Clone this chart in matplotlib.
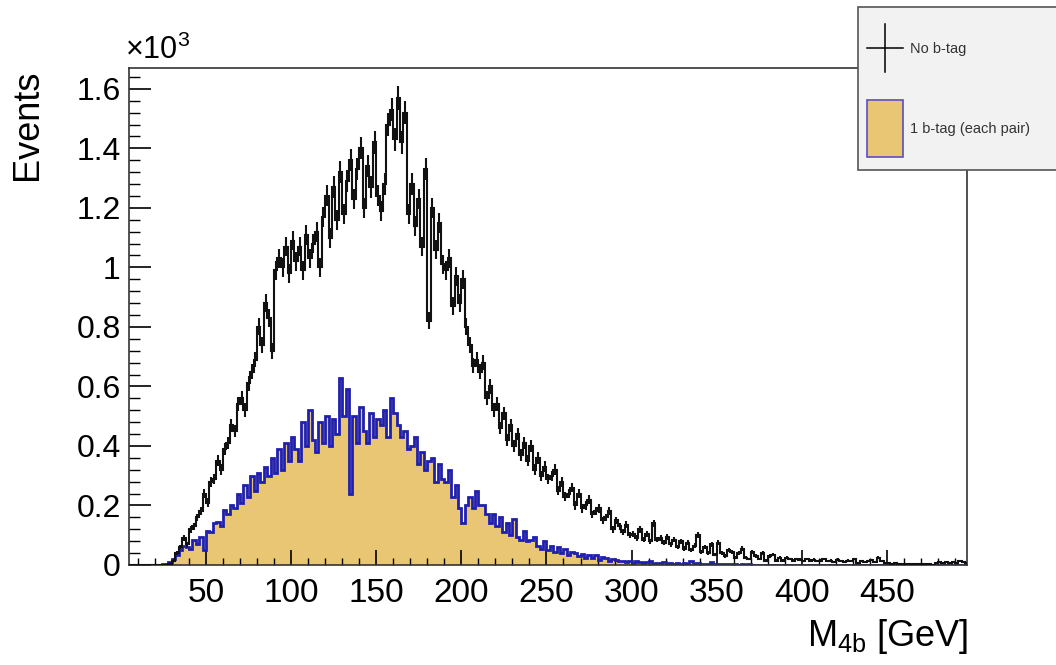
import numpy as np
import matplotlib
matplotlib.use("Agg")
import matplotlib.pyplot as plt
from matplotlib.ticker import MultipleLocator, FuncFormatter
from matplotlib.patches import Rectangle
from matplotlib.lines import Line2D

plt.rcParams['font.family'] = ['Liberation Sans', 'DejaVu Sans']
plt.rcParams['mathtext.default'] = 'regular'

# 2 GeV bins, 0..500 GeV
bin_edges = np.arange(0, 502, 2)

# "No b-tag" counts, starting at bin centre 29 GeV
nob_start = 29
nob_counts = [
    5, 15, 40, 60, 90, 70, 120, 130, 160, 180,
    240, 210, 280, 290, 350, 320, 390, 410, 470, 450,
    540, 560, 520, 610, 650, 690, 800, 740, 880, 830,
    720, 990, 1030, 1000, 1070, 980, 1090, 1020, 1070, 990,
    1110, 1030, 1080, 1120, 1000, 1170, 1240, 1100, 1270, 1160,
    1320, 1180, 1290, 1360, 1230, 1330, 1400, 1200, 1340, 1270,
    1420, 1240, 1190, 1280, 1480, 1530, 1430, 1570, 1420, 1520,
    1180, 1280, 1140, 1230, 1070, 1330, 820, 1200, 1060, 1150,
    1010, 990, 1030, 870, 970, 880, 960, 800, 740, 670,
    690, 650, 680, 560, 600, 520, 540, 460, 510, 420,
    470, 400, 440, 370, 410, 350, 400, 320, 360, 300,
    330, 290, 300, 320, 250, 280, 230, 240, 260, 200,
    240, 190, 200, 220, 170, 180, 190, 150, 160, 180,
    120, 150, 130, 110, 135, 100, 105, 90, 120, 85,
    105, 80, 140, 85, 90, 75, 95, 70, 85, 60,
    80, 55, 75, 50, 65, 100, 45, 60, 40, 70,
    35, 75, 40, 30, 50, 45, 25, 40, 55, 25,
    20, 45, 30, 20, 40, 15, 30, 35, 15, 25,
    15, 25, 20, 15, 20, 18, 12, 20, 15, 18,
    12, 15, 20, 12, 15, 10, 18, 14, 10, 15,
    12, 20, 8, 14, 10, 12, 16, 10, 25, 12,
    8, 6, 4, 6, 5, 3, 5, 4, 3, 2,
    3, 2, 3, 2, 1, 8, 10, 6, 9, 7,
    10, 8, 12, 9, 7,
]

# "1 b-tag (each pair)" counts, starting at bin centre 25 GeV
one_start = 25
one_counts = [
    3, 5, 10, 20, 35, 50, 65, 60, 55, 85,
    70, 95, 50, 115, 110, 140, 145, 130, 185, 170,
    200, 190, 240, 210, 270, 230, 300, 250, 310, 280,
    330, 300, 360, 310, 390, 320, 410, 350, 430, 390,
    350, 480, 400, 520, 420, 380, 480, 410, 500, 400,
    490, 440, 630, 500, 590, 240, 500, 410, 530, 450,
    410, 510, 430, 490, 470, 520, 430, 560, 510, 470,
    430, 450, 390, 400, 430, 340, 380, 320, 350, 360,
    280, 340, 290, 280, 320, 230, 270, 190, 140, 200,
    230, 190, 250, 200, 200, 170, 140, 170, 130, 160,
    110, 140, 100, 155, 95, 85, 115, 80, 85, 95,
    65, 55, 80, 50, 65, 45, 60, 40, 55, 35,
    45, 40, 30, 38, 25, 32, 22, 32, 18, 28,
    22, 15, 20, 18, 12, 15, 10, 14, 8, 12,
    10, 6, 9, 12, 5, 8, 6, 10, 4, 7,
    5, 8, 3, 6, 5, 15, 4, 6, 3, 5,
    4, 10, 3, 5, 2, 4, 3, 2, 3, 1,
    2, 1, 2, 1, 0, 1,
]

centers = 0.5 * (bin_edges[:-1] + bin_edges[1:])
nbins = len(centers)

nob = np.zeros(nbins)
i0 = int((nob_start - 1) // 2)
nob[i0:i0 + len(nob_counts)] = nob_counts
one = np.zeros(nbins)
i1 = int((one_start - 1) // 2)
one[i1:i1 + len(one_counts)] = one_counts

fill_col = '#e8c673'
line_col = '#1f1fb0'

fig = plt.figure(figsize=(10.56, 6.65), dpi=100)
ax = fig.add_axes([129/1056, 1 - 565/665, (967 - 129)/1056, (565 - 68)/665])

ax.stairs(one / 1000, bin_edges, fill=True, color=fill_col, zorder=1)
ax.stairs(one / 1000, bin_edges, color=line_col, lw=2.0, zorder=2)

ax.stairs(nob / 1000, bin_edges, color='#111111', lw=1.5, zorder=3)
mask = nob > 0
ax.errorbar(centers[mask], nob[mask] / 1000, yerr=np.sqrt(nob[mask]) / 1000,
            fmt='none', ecolor='#111111', elinewidth=1.5, zorder=3)

ax.set_xlim(4.8, 497)
ax.set_ylim(0, 1.67)

ax.xaxis.set_major_locator(MultipleLocator(50))
ax.xaxis.set_minor_locator(MultipleLocator(10))
ax.yaxis.set_major_locator(MultipleLocator(0.2))
ax.yaxis.set_minor_locator(MultipleLocator(0.04))
ax.yaxis.set_major_formatter(FuncFormatter(lambda v, p: '%g' % round(v, 2)))
ax.xaxis.set_major_formatter(FuncFormatter(lambda v, p: '%g' % v))

ax.tick_params(axis='both', which='both', direction='in', top=False, right=False)
ax.tick_params(axis='y', which='major', length=16, width=1.2, labelsize=23, pad=6)
ax.tick_params(axis='y', which='minor', length=8, width=1.0)
ax.tick_params(axis='x', which='major', length=11, width=1.2, labelsize=24, pad=9)
ax.tick_params(axis='x', which='minor', length=5, width=1.0)
for s in ax.spines.values():
    s.set_color('#333333')
    s.set_linewidth(1.2)

fig.text(27/1056, 1 - 125/665, 'Events', rotation=90, ha='center', va='center',
         fontsize=26)
fig.text(968/1056, 1 - 636/665, r'M$_{4b}$ [GeV]', ha='right', va='center',
         fontsize=26)
fig.text(125/1056, 1 - 50/665, r'×10$^{3}$', ha='left', va='center', fontsize=22)

# legend box (top right, cut by the canvas edge)
def fx(px):
    return px / 1056

def fy(py):
    return 1 - py / 665

fig.patches.append(Rectangle((fx(858), fy(170)), fx(1100) - fx(858), fy(7) - fy(170),
                             transform=fig.transFigure, facecolor='#f2f2f2',
                             edgecolor='#555555', lw=1.2, zorder=10))
fig.lines.append(Line2D([fx(867), fx(903)], [fy(48), fy(48)], transform=fig.transFigure,
                        color='black', lw=1.1, zorder=11))
fig.lines.append(Line2D([fx(885), fx(885)], [fy(24), fy(72)], transform=fig.transFigure,
                        color='black', lw=1.1, zorder=11))
fig.patches.append(Rectangle((fx(867), fy(157)), fx(903) - fx(867), fy(100) - fy(157),
                             transform=fig.transFigure, facecolor=fill_col,
                             edgecolor='#5a4fc0', lw=1.2, zorder=11))
fig.text(fx(910), fy(49), 'No b-tag', ha='left', va='center', fontsize=10.5,
         color='#333333', zorder=12)
fig.text(fx(910), fy(129), '1 b-tag (each pair)', ha='left', va='center', fontsize=10.5,
         color='#333333', zorder=12)

fig.savefig('out.png', dpi=100)
